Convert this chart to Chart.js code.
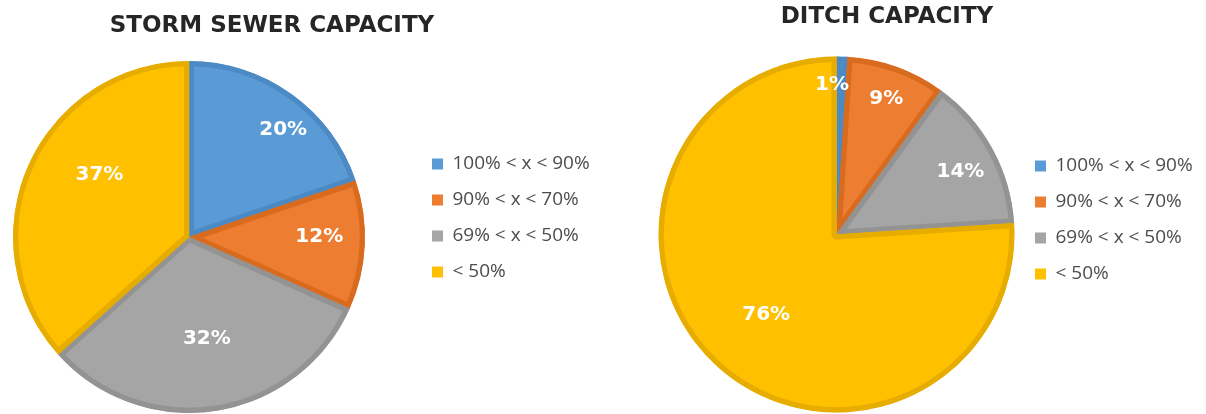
<!DOCTYPE html>
<html>
<head>
<meta charset="utf-8">
<script src="https://cdn.jsdelivr.net/npm/chart.js@4/dist/chart.umd.min.js"></script>
<style>
  html, body { margin: 0; padding: 0; background: #fff; overflow: hidden; width: 1206px; height: 414px; }
  .box { position: absolute; top: 0; }
</style>
</head>
<body>
<div class="box" style="left:-37px;width:650px;height:436px"><canvas id="storm"></canvas></div>
<div class="box" style="left:655px;width:551px;height:440px"><canvas id="ditch"></canvas></div>
<script>
// categories shared by both pies
const categories = ['100% < x < 90%', '90% < x < 70%', '69% < x < 50%', '< 50%'];
// percent of each
const stormValues = [20, 12, 32, 37];
const ditchValues = [1, 9, 14, 76];

const fills = ['#5B9BD5', '#ED7D31', '#A5A5A5', '#FFC000'];
const edges = ['#4C8AC6', '#D96B1F', '#939393', '#E6AC00'];

// where each % label sits: fraction of radius, and angle nudge in degrees
const stormLabelPos = [[0.81, 5.7], [0.74, -2.7], [0.59, -1], [0.62, 10.8]];
const ditchLabelPos = [[0.84, -3.5], [0.81, 0.4], [0.78, 2], [0.6, -2]];

const pctLabels = {
  id: 'pctLabels',
  afterDatasetsDraw(chart, args, opts) {
    const ctx = chart.ctx;
    const meta = chart.getDatasetMeta(0);
    const vals = chart.data.datasets[0].data;
    ctx.save();
    ctx.fillStyle = '#fff';
    ctx.font = 'bold 20px "DejaVu Sans"';
    ctx.textAlign = 'center';
    ctx.textBaseline = 'middle';
    meta.data.forEach((arc, i) => {
      const p = arc.getProps(['x', 'y', 'startAngle', 'endAngle', 'outerRadius'], true);
      const mid = (p.startAngle + p.endAngle) / 2 + opts.pos[i][1] * Math.PI / 180;
      const r = p.outerRadius * opts.pos[i][0];
      ctx.fillText(vals[i] + '%', p.x + Math.cos(mid) * r, p.y + Math.sin(mid) * r);
    });
    ctx.restore();
  }
};

// legend is kept narrow so the title centres like the original,
// then its box is widened again so the label text is not clipped
const wideLegend = {
  id: 'wideLegend',
  afterLayout(chart) {
    const l = chart.legend;
    if (l) {
      l.right = chart.width;
      l.width = l.right - l.left;
    }
  }
};

function makePie(id, title, values, radius, titlePad, legendW, padRight, labelPos) {
  return new Chart(document.getElementById(id), {
    type: 'pie',
    data: {
      labels: categories,
      datasets: [{
        data: values,
        backgroundColor: fills,
        borderColor: edges,
        borderWidth: 5,
        borderAlign: 'inner',
        radius: radius
      }]
    },
    plugins: [pctLabels, wideLegend],
    options: {
      responsive: true,
      maintainAspectRatio: false,
      animation: false,
      layout: { padding: { left: 0, right: padRight, top: 0, bottom: 0 } },
      plugins: {
        pctLabels: { pos: labelPos },
        tooltip: { enabled: false },
        title: {
          display: true,
          text: title,
          color: '#262626',
          font: { family: '"DejaVu Sans"', size: 23, weight: 'bold', lineHeight: 1 },
          padding: titlePad
        },
        legend: {
          position: 'right',
          maxWidth: legendW,
          labels: {
            color: '#4d4d4d',
            font: { family: '"Open Sans"', size: 19 },
            boxWidth: 11,
            boxHeight: 11,
            padding: 17,
            generateLabels: chart => Chart.overrides.pie.plugins.legend.labels.generateLabels(chart)
              .map(l => Object.assign(l, { lineWidth: 0, strokeStyle: 'rgba(0,0,0,0)' }))
          }
        }
      }
    }
  });
}

makePie('storm', 'STORM SEWER CAPACITY', stormValues, 176, { top: 15, bottom: 0 }, 166, 32, stormLabelPos);
makePie('ditch', 'DITCH CAPACITY', ditchValues, 178, { top: 6, bottom: 0 }, 101, 87, ditchLabelPos);
</script>
</body>
</html>
